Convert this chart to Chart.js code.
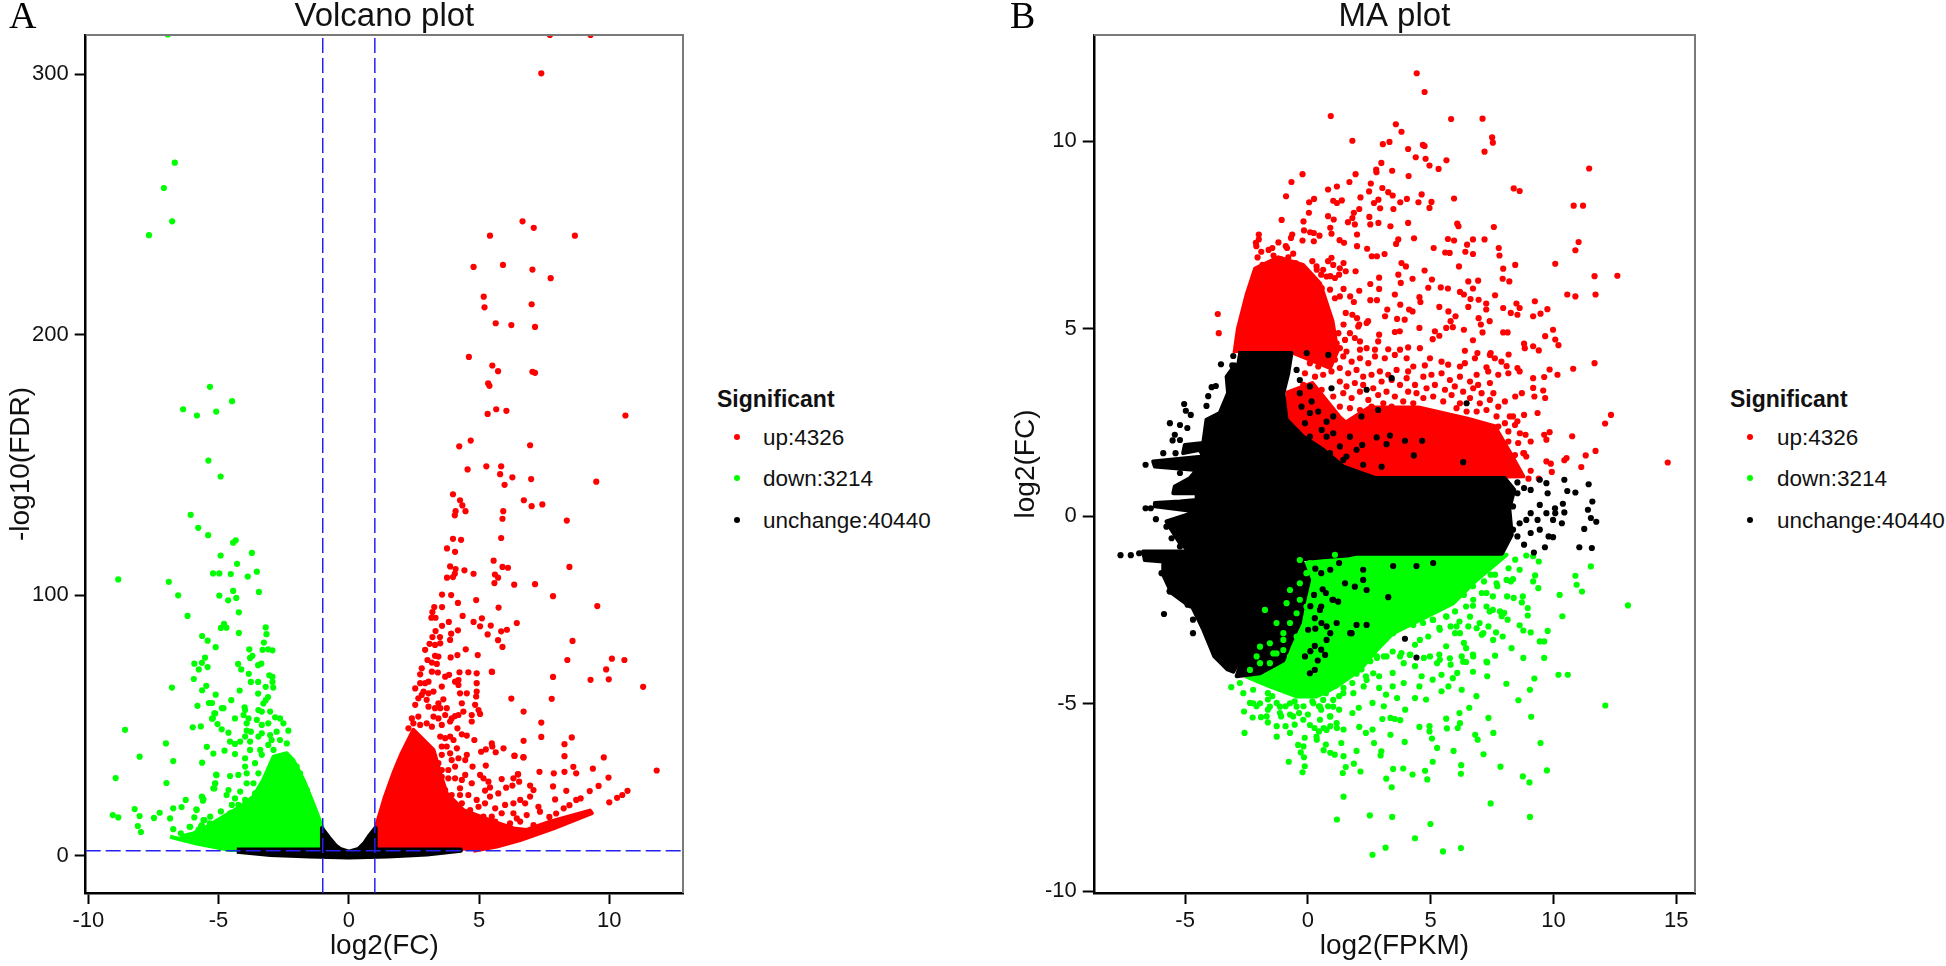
<!DOCTYPE html>
<html>
<head>
<meta charset="utf-8">
<title>Volcano and MA plot</title>
<script src="https://cdn.jsdelivr.net/npm/chart.js@4/dist/chart.umd.min.js"></script>
<style>
html, body { margin: 0; padding: 0; background: #fff; }
body { position: relative; width: 1946px; height: 966px; overflow: hidden; font-family: "Liberation Sans", sans-serif; color: #111; }
canvas { position: absolute; top: 0; }
#volcanoChart { left: 0; }
#maChart { left: 1000px; }
.panel { position: absolute; top: -7px; font: 38px "Liberation Serif", serif; color: #000; }
.leg { position: absolute; font-size: 22.5px; line-height: 26px; white-space: nowrap; }
.leg.head { font-size: 23px; font-weight: bold; }
.dot { position: absolute; width: 6px; height: 6px; border-radius: 50%; }
</style>
</head>
<body>
<canvas id="volcanoChart" width="700" height="966"></canvas>
<canvas id="maChart" width="710" height="966"></canvas>
<span class="panel" style="left:9px">A</span>
<span class="panel" style="left:1010px">B</span>
<div id="legends"></div>
<script>
var legendTitle = "Significant";
var legendLabels = ["up:4326", "down:3214", "unchange:40440"];
var seriesColors = ["#ff0000", "#00ff00", "#000000"];

var volcanoXTicks = [-10, -5, 0, 5, 10];
var volcanoYTicks = [0, 100, 200, 300];
var maXTicks = [-5, 0, 5, 10, 15];
var maYTicks = [-10, -5, 0, 5, 10];
var fcCutoffs = [-1, 1];
var fdrCutoff = 2;

// dense parts of the clouds, outlines, drawn as closed shapes
var volcanoUpCloud = [[1.01,2.3],[1.01,10],[1.39,22.8],[1.71,31.7],[2.03,39.4],[2.48,48.4],[3.25,40.7],[3.51,31.7],[3.76,24],[4.4,17.6],[5.55,13.2],[6.32,10.6],[6.83,10],[7.73,13.2],[9.26,17.4],[9.33,16.4],[7.86,10.6],[6.58,6.1],[5.68,3.6],[4.78,2]];
var volcanoDownCloud = [[-6.86,7.4],[-5.84,4.8],[-4.56,2.3],[-1.04,2.9],[-1,10.6],[-1.42,21.5],[-1.74,29.2],[-2.13,36.8],[-2.38,39.4],[-2.89,38.1],[-3.28,29.2],[-3.66,22.8],[-4.17,18.9],[-4.81,15.1],[-5.45,11.2],[-5.96,8.7],[-6.48,7.4]];
var volcanoSameCloud = [[-4.3,2.5],[-1.05,2.5],[-1.03,10.7],[-0.75,7],[-0.5,4],[-0.33,2.7],[0,1.7],[0.37,2.7],[0.6,5],[0.8,8],[1.01,10.7],[1.03,2.5],[4.3,2.5],[4.3,2],[3,0.6],[1.5,-0.2],[0,-0.6],[-1.5,-0.2],[-3,0.4],[-4.3,1.6]];

var volcanoUp = [[7.72,315],[9.28,315],[7.39,300.3],[6.67,243.5],[7.1,241],[5.42,238],[8.68,238],[4.79,226],[5.92,226.8],[7.05,225],[7.75,221.7],[5.18,214.6],[5.21,210.5],[7.02,211.7],[5.64,204.4],[6.24,203.7],[7.15,203],[4.61,191.5],[5.51,188.2],[5.73,186],[7.05,185.8],[7.15,185.4],[5.35,181.3],[5.4,180.4],[5.66,171.4],[6.05,170.8],[5.33,169.6],[10.62,169],[4.68,159.4],[4.24,157.2],[6.96,157.6],[5.28,149.5],[5.85,149.5],[4.56,148.3],[5.81,146.5],[6.28,145.3],[7,144.6],[9.5,143.6],[5.98,142.4],[4,138.8],[4.27,136.5],[6.72,136.5],
[4.36,134.5],[7.02,134.2],[7.43,134.9],[4.48,132.3],[4.1,132.3],[4.07,130.7],[5.93,132.3],[5.9,129.4],[8.37,128.7],[5.85,122],[4,121.7],[4.31,121.3],[3.77,118],[4.08,116.7],[5.56,113.3],[5.9,110.9],[6.11,110.6],[8.47,110.9],[3.89,111.1],[4.1,110.1],[4.44,109.6],[4.79,108.3],[4.07,108.3],[4,107],[3.77,106.8],[5.61,108],[5.73,106.8],[5.59,104.7],[6.35,104.1],[7.15,104.3],[7.84,99.7],[3.58,100.3],[3.93,100.1],[4.89,98.2],[4.19,97.1],[5.75,95.3],[9.54,95.9],[3.28,95.5],[3.58,95.5],[3.21,93.6],[4.37,92.1],[5.11,91.2],[3.17,91.4],[3.33,91.4],[4.79,89.8],[5.04,88.1],[5.45,88.4],[6.45,89.4],[3.58,88.3],[3.84,89.8],[4.19,86.6],[6.07,86.8],[5.85,86.2],[3.33,86.3],[3.93,85.3],[5.33,85],[3.5,84],[3.21,84],[5.73,82.8],[8.59,82.5],[5.9,80.2],[8.39,75.2],[10.1,75.7],[10.58,75.2],[9.88,71.6],[5.5,70.6],[7.84,68.7],[9.28,67.6],[9.98,67.8],[11.3,64.9],[6.24,60.4],[7.79,60.3],
[6.71,55.4],[7.39,51.2],[7.39,45.7],[6.71,44.2],[8.56,45.5],[8.28,42.9],[8.28,38.3],[9.79,37.8],[6.71,37.8],[6.36,38.4],[8.62,34.2],[9.37,33.5],[11.82,32.8],[7.32,32.3],[7.87,31.7],[8.28,32.3],[8.73,31.7],[6.5,31.4],[9.97,30.1],[7.84,26.7],[9.59,26.9],[9.25,24.9],[10.7,25],[8.35,25],[7.92,21.7],[7.7,15],[7.96,16.3],[8.25,18.3],[8.47,19.5],[8.73,21.5],[8.9,22.1],[10,20.6],[10.3,22.3],[10.5,23.4],
[2.93,79.1],[3.1,81.4],[3.31,81],[3.51,81.6],[3.89,82.9],[3.02,75.2],[3.19,74.2],[3.38,73.7],[3.44,76.5],[3.31,76.8],[3.91,76.2],[4.17,77.1],[4.49,79.3],[4.95,77.1],[2.8,72],[2.74,69.7],[3.19,70.7],[3.42,70.4],[3.7,68.8],[3.85,69.5],[4.25,70.5],[4.59,70.5],[4.91,70.1],[5.49,70.7],[4.08,66.9],[4.21,67.5],[2.55,64.3],[2.74,66.3],[2.93,66.3],[3.06,66.9],[2.87,63.1],[3.06,62.4],[3.25,63.1],[3.57,65],[2.67,60.5],[2.8,61.8],[2.55,58],[2.99,59.9],[3.06,57.3],[3.44,58.6],[3.63,60.1],[3.31,56.7],[3.51,56.7],[3.25,53.5],[3.44,52.8],[3.76,56.7],[3.7,54.1],[3.95,52.8],[4.08,53.7],[2.42,52.8],[2.67,53.5],[2.29,49],[2.48,50.9],[2.74,50.3],[2.99,50.9],[3.19,49.6],[3.57,50.3],[3.89,51.6],[4.21,65.6],[4.27,62.4],[4.53,62.4],[4.34,58.6],[4.4,55.4],[4.21,54.1],[4.91,66.3],[4.91,63.1],[4.89,61.2],[4.85,58],[4.98,56],[5.04,54.5],[4.72,54.1],[4.72,51.6],[4.17,49],[4.34,46.7],[4.53,46.2],[4.82,44.5],
[3.51,45.8],[3.7,45.2],[3.89,45.8],[4.02,44.5],[3.57,42],[3.76,42],[3.89,39.4],[4.15,41.3],[3.57,38.8],[3.95,36.8],[4.21,37.5],[4.53,38.8],[4.47,36.8],[3.44,35.6],[3.19,33.6],[3.57,33],[3.82,33],[4.08,34.3],[4.47,31.1],[4.75,34.3],[5.26,34.7],[5.08,40],[5.26,40.9],[5.49,43.2],[5.51,42],[5.64,39.8],[5.94,41.3],[6.36,38.5],[6.7,37.9],
[2.87,29.2],[3.31,30.4],[3.57,30.4],[3.82,29.8],[4.08,29.8],[4.34,29.2],[5.04,31.1],[5.17,29.8],[5.36,28.5],[4.72,27.9],[5.87,29.5],[6.32,29.8],[6.49,31.3],[6.54,28.5],[6.28,27],[6.04,26.2],[5.23,25.1],[5.42,26.3],[5.74,24],[6.96,27],[7.09,25.3],[6.96,22.8],
[3.51,25.3],[3.7,25.3],[3.95,23.4],[4.27,26],[4.27,23.4],[4.59,23.4],[4.91,21.5],[5.23,20.2],[5.42,22.8],[5.62,18.3],[6,19.6],[6.32,20.2],[6.58,21.5],[6.77,20.2],[7.28,18.9],[7.34,17],
[3.06,26.6],[3.12,22.8],[3.51,20.8],[3.76,19.6],[3.89,16.4],[4.34,20.2],[4.66,17.6],[4.98,18.9],[5.49,15.1],[5.87,16.4],[6.32,16.4],[6.45,14.4],[6.83,15.7],[7.09,11.9],[6.19,12.5],[6.58,13.2],[5.62,13.2],[5.17,15.1],[4.53,15.7]];

var volcanoDown = [[-6.95,315.2],[-6.68,266],[-7.1,256.3],[-6.78,243.5],[-7.67,238.2],[-5.33,180],[-4.48,174.5],[-6.36,171.4],[-5.83,169],[-5.09,170.5],[-5.39,151.7],[-4.92,145.6],
[-6.07,130.9],[-5.78,125.9],[-5.4,123.1],[-4.34,121.1],[-4.44,120.2],[-4.92,115.3],[-3.72,116.3],[-4.29,112.1],[-8.85,106.1],[-5.21,108.4],[-4.97,108.4],[-4.53,108.2],[-3.53,109.1],[-3.88,107.2],[-6.91,105.2],[-4.44,101.7],[-3.45,101.3],[-4.97,99.9],[-6.55,100],[-4.32,99],[-4.63,98.1],[-4.22,93.5],[-6.19,92.1],[-4.79,89.1],[-4.91,87.5],[-4.7,87.6],[-3.19,87.7],[-4.22,85.6],[-3.16,85.1],[-5.63,84.4],[-5.42,82.6],[-5.11,80.1],[-3.26,81.9],[-3.82,79.3],[-3.31,79.1],[-3.1,79.3],[-2.93,78.9],[-3.7,76.8],[-3.79,76],[-5.52,76.1],[-5.93,73.8],[-5.64,74.1],[-5.42,72.5],[-4.25,73.7],[-5.76,71.6],[-3.36,73.8],[-3.48,73.2],[-4.13,71.6],[-3.84,69.9],[-3.05,69.3],[-2.93,68.7],[-5.95,67.9],[-3.76,66.8],[-3.48,66.8],[-2.93,66.8],[-6.79,64.6],[-5.47,65.3],[-5.63,63.6],[-2.9,64.6],[-4.19,63.5],[-3.19,64.9],[-3.48,62.3],[-5.11,61.9],[-3.1,61],[-3.19,59.8],[-4.51,59.8],[-3.28,58.5],[-5.37,58.7],[-5.25,58.7],[-5.81,57.6],[-4.87,56.7],[-4,57],[-5.16,54.7],[-5.25,52.7],[-5.99,49.4],[-5.68,49.7],[-8.59,48.4],[-7.02,43.2],[-5.45,41.9],[-5.2,39.3],[-8.03,38.1],[-6.74,36.4],[-5.63,35.8],[-5.08,31],[-8.95,29.9],[-7,28],[-5.13,27.8],[-5.16,25.9],[-5.63,22.5],[-5.6,21.2],[-6.26,21.5],[-6.42,18.8],[-6.74,18.3],[-8.22,18],[-5.85,17.9],[-9.06,15.7],[-7.26,16.6],[-8.85,14.8],[-8.03,15.3],[-7.48,14.6],[-6.86,14.4],[-5.54,13.8],[-5.93,14.8],[-8.1,11.5],[-6.11,11.2],[-7.98,9.2],[-6.74,10.3],[-6.45,8.7],[-5.68,11.2],[-5.33,12.5],
[-3.98,56],[-4.04,54.1],[-3.85,52.8],[-3.92,50.9],[-4.37,52.8],[-4.81,56.7],[-5.13,54.7],[-5.22,52.8],[-5.04,50.6],[-4.88,48.6],[-4.62,47.3],[-4.56,43.9],[-4.37,43],[-4.17,43.9],[-4.77,40.4],[-4.37,39.1],[-3.79,43.9],[-3.76,47.7],[-3.92,48.1],[-3.98,45.8],[-3.47,56],[-3.34,55.4],[-3.53,52.2],[-3.34,50.3],[-3.34,47.1],[-3.47,45.8],[-3.02,55.4],[-2.83,53.2],[-2.64,52.8],[-2.51,50.9],[-3.09,50.9],[-2.77,47.7],[-2.32,48.1],[-3.02,46.4],[-2.96,44.5],[-2.64,44.5],[-3.09,42.6],[-3.4,40.7],[-3.79,40.7],[-3.98,37.5],[-3.98,34.3],[-3.6,35.6],[-3.34,38.8],[-2.89,40.7],[-2.38,43.2],[-3.47,31.7],[-3.92,31.7],[-4.24,31.1],[-4.56,30.7],[-5.09,31.2],[-5.13,27.9],[-5.2,26],[-4.62,25.3],[-4.17,24.7],[-3.92,27.9],[-3.66,27.9],[-3.28,26.6],[-4.69,23.4],[-4.37,22.1],[-3.98,21.5],[-3.6,24],[-3.34,21.5],[-4.49,19.6],[-4.24,19.6],[-3.92,18.3],[-4.56,16.4],[-4.17,15.1],[-3.79,15.7],[-5.64,22.8],[-5.58,21.7],[-4.91,17.1],[-5.84,17.6],[-5.32,15.1],[-5.58,13.8],[-5.26,11.9],[-5.77,10],[-5.64,11.9],[-5.07,10],[-4.75,13.2],[-4.3,11.9],[-6.09,11.2],[-2,34.3],[-1.87,31.7],[-1.61,25.3],[-1.49,20.2],[-1.29,15],[-3.02,29.2],[-3.21,22.8],[-3.66,16.4]];

var maUpCloud = [[-2.99,4.35],[-2.85,5],[-2.5,5.9],[-2.15,6.6],[-1.2,6.9],[-0.2,6.7],[0.5,6.2],[1,5.2],[1.2,4.4],[0.9,3.95],[-0.6,4.35]];
var maUpLowCloud = [[1,1.3],[1.3,2.4],[2.5,2.9],[4.5,2.9],[6.5,2.6],[7.6,2.4],[8.4,1.5],[8.77,1.06],[3,1]];
var maUpMixCloud = [[-0.91,3.28],[0.18,3.55],[1.27,2.66],[2,2.22],[3.09,1.81],[3.3,1.01],[0.18,1.15],[-0.91,1.59]];
var maDownCloud = [[1.85,-0.99],[8.09,-1.03],[6.87,-1.7],[5.92,-2.32],[4.56,-2.77],[3.47,-3.12],[2.8,-3.57],[2.12,-4.1],[1.17,-4.54],[0.35,-4.81],[-0.46,-4.81],[-1.55,-4.54],[-2.5,-4.28],[-2.2,-4],[-1.6,-2.6],[-0.7,-1.5],[0.5,-1.05]];
var maSameMixCloud = [[-0.3,-1.1],[0.05,-1.7],[-0.2,-2.4],[-0.33,-2.85],[-0.73,-3.4],[-1,-3.85],[-1.95,-4.19],[-2.9,-4.27],[-2,-2.5],[-0.46,-1.17]];
var maSameCloud = [[-2.84,4.35],[-0.67,4.35],[-0.8,3.81],[-1,3.28],[-0.87,2.57],[-0.19,2.12],[0.62,1.77],[1.44,1.32],[2.73,1.02],[8,1.02],[8.4,0.7],[8.2,0.2],[8.3,-0.5],[7.9,-1],[2,-1],[1.6,-1.05],[0.6,-1.1],[-0.46,-1.17],[-0.87,-1.7],[-1.41,-2.41],[-1.95,-3.03],[-2.63,-3.65],[-3.04,-4.15],[-3.27,-4.09],[-3.81,-3.74],[-4.26,-3.03],[-4.72,-2.41],[-4.8,-2.41],[-5.55,-2.05],[-5.89,-1.57],[-5.89,-1.21],[-6.64,-1.17],[-6.71,-0.94],[-4.8,-0.94],[-5.21,-0.72],[-5.55,-0.37],[-5.76,-0.14],[-4.53,0.12],[-6.23,0.26],[-6.23,0.35],[-5.21,0.39],[-4.53,0.43],[-4.53,0.61],[-5.48,0.61],[-5.42,0.79],[-4.81,1.01],[-4.53,1.23],[-6.23,1.32],[-6.3,1.46],[-4.26,1.59],[-4.4,1.77],[-5.08,1.68],[-5.01,1.9],[-4.26,1.95],[-4.13,2.57],[-3.59,2.75],[-3.25,3.28],[-3.31,3.72],[-2.91,4.08]];

var maUp = [[4.43,11.81],[4.75,11.31],[0.93,10.67],[5.83,10.59],[7.11,10.6],[3.58,10.45],[3.81,10.25],[7.5,10.1],[7.53,9.96],[1.81,10.01],[3.05,9.92],[3.32,9.98],[4.68,9.9],[4.75,9.87],[7.19,9.72],[4.08,9.79],[4.39,9.57],[4.79,9.53],[5.64,9.49],[4.95,9.35],[2.99,9.42],[2.78,9.24],[2.79,9.17],[5.32,9.26],[3.43,9.21],[11.45,9.27],[-0.22,9.12],[1.94,9.12],[4.1,9.07],[-0.67,8.91],[1.69,8.91],[1.18,8.79],[0.82,8.71],[2.56,8.87],[3.03,8.75],[8.38,8.74],[8.62,8.67],[-0.89,8.53],[2.49,8.66],[3.27,8.64],[3.45,8.55],[4.63,8.58],[5.95,8.47],[4.03,8.46],[0.25,8.46],[2.14,8.5],[0.05,8.37],[1.03,8.41],[1.18,8.35],[1.38,8.42],[2.87,8.44],[2.69,8.35],[3.76,8.37],[4.5,8.37],[5.03,8.38],[10.82,8.28],[11.2,8.28],[2.09,8.19],[2.94,8.21],[3.48,8.19],[4.95,8.22],[0.04,8.09],[1.87,8.09],[0.82,8],[1.81,7.95],[2.5,7.98],[-1.07,7.9],[1.05,7.91],[-0.18,7.86],[1.63,7.84],[1.91,7.78],[2.54,7.78],[2.87,7.82],[4.08,7.82],[3.36,7.73],[6.08,7.8],[6.13,7.73],[7.57,7.71],[0.91,7.69],[2,7.51],[-0.16,7.62],[0.09,7.57],[0.24,7.55],[0.47,7.48],[-0.64,7.51],[-0.69,7.42],[0.96,7.53],[-2,7.51],[-2,7.38],[-0.22,7.35],[0.24,7.33],[1.29,7.36],[3.68,7.38],[3.59,7.26],[4.32,7.41],[5.7,7.39],[5.95,7.35],[6.72,7.38],[7.19,7.38],[6.48,7.24],[11.02,7.31],[-2.12,7.29],[1.47,7.29],[2,7.2],[-0.85,7.15],[-1.45,7.15],[5.12,7.15],[7.77,7.15],[2.41,7.13],[10.89,7.09],[6.41,7.05],[5.59,7.03],[5.77,7.02],[6.72,6.99],[7.8,6.95],[2.81,6.93],[3.12,6.99],[2.6,6.93],[0.18,6.8],[0.82,6.8],[1.45,6.75],[0.96,6.89],[-0.73,6.75],[-0.27,6.66],[-1.45,6.75],[10.07,6.73],[8.44,6.7],[3.81,6.75],[3.99,6.66],[6.15,6.66],[7.95,6.6],[1.94,6.53],[4.75,6.55],[3.68,6.44],[1.54,6.53],[0.36,6.57],[0.54,6.44],[1.27,6.44],[0.91,6.4],[11.67,6.4],[12.6,6.41],[4.26,6.33],[2.9,6.36],[5.05,6.31],[7.93,6.33],[8.2,6.26],[6.93,6.28],[6.53,6.26],[3.78,6.22],[2.54,6.19],[4.9,6.09],[5.41,6.1],[5.7,6.07],[6.19,5.98],[6.72,6.07],[2.9,6.06],[2.09,6.01],[1.45,6.06],[6.35,5.91],[3.54,5.91],[7.62,5.89],[10.56,5.91],[10.89,5.86],[11.71,5.91],[1.72,5.86],[4.54,5.84],[2.54,5.76],[2.81,5.76],[6.62,5.79],[6.95,5.77],[4.58,5.71],[9.24,5.73],[1.87,5.71],[7.26,5.67],[3.76,5.64],[-2.45,5.67],[8.49,5.67],[6.53,5.58],[5.35,5.58],[7.95,5.55],[7.26,5.51],[8.62,5.55],[9.75,5.52],[3.23,5.51],[4.12,5.51],[1.54,5.42],[5.72,5.46],[8.53,5.37],[9.47,5.4],[8.26,5.42],[-3.67,5.39],[-3.63,4.88],[9.17,5.33],[3.14,5.33],[4.26,5.46],[6.01,5.33],[1.81,5.37],[2,5.28],[3.63,5.26],[3.94,5.24],[6.95,5.28],[5.81,5.2],[7.4,5.2],[2.45,5.2],[1.45,5.11],[2.09,5.11],[7.04,5.11],[5.63,5.02],[5.9,5.04],[6.35,4.97],[4.54,5.02],[9.98,4.97],[2.9,4.84],[3.54,4.91],[3.74,4.93],[5.17,4.93],[7.95,4.9],[8.13,4.9],[7.11,4.9],[9.66,4.8],[5.35,4.81],[5.08,4.72],[6.72,4.69],[10.07,4.71],[8.8,4.6],[10.2,4.56],[9.17,4.53],[8.83,4.48],[9.4,4.42],[6.39,4.41],[7.44,4.35],[6.9,4.35],[8.17,4.31],[11.67,4.08],[10.8,3.93],[8.53,3.95],[9.84,3.91],[10.16,3.77],[9.62,3.71],[9.17,3.68],[8.62,3.86],[9.17,3.42],[9.58,3.35],[8.71,3.28],[8.44,3.19],[9.66,3.15],[9.22,3.19],[9.35,2.75],[12.34,2.7],[12.1,2.47],[8.8,2.7],[8.35,2.66],[8.53,2.53],[10.76,2.13],[9.84,2.24],[9.62,2.17],[9.71,2.04],[8.86,2.17],[9.07,1.99],[11.71,1.74],[11.31,1.62],[10.53,1.55],[10.44,1.49],[8.8,1.68],[8.89,1.59],[14.65,1.43],[9.71,1.46],[9.89,1.4],[11.13,1.31],[9.93,1.18],[9.07,1.21],[9.4,1],[8.98,1],
[-2.1,7.2],[-1.9,7.05],[-2.05,6.9],[-1.85,6.7],[-1.6,7.1],[-1.4,6.95],[-1.1,6.85],[-0.8,6.9],[-0.5,6.75],[-0.6,7],[-1.2,7.3],[-0.9,7.2],
[0.35,6.66],[0.62,6.57],[1.03,6.7],[1.3,6.61],[0.76,6.39],[1.1,6.35],[0.56,6.08],[0.9,6.04],[1.3,5.86],[1.1,5.81],[1.24,4.88],[1.17,4.61],[1.51,4.7],[1.3,4.48],[1.57,4.39],[1.91,4.75],[2.12,4.66],[1.71,4.88],[2.05,5.06],[2.39,5.15],[2.86,4.66],[2.73,4.44],[3.27,4.45],[3.75,4.44],[4.08,4.5],[4.56,4.48],[2.12,4.44],[2.39,4.48],
[0.08,4.08],[0.42,3.99],[1.1,4.17],[1.44,4.26],[1.78,4.12],[2.12,4.21],[2.46,4.08],[2.73,4.26],[3.13,4.21],[3.54,4.3],[4.02,4.21],[4.29,3.99],[4.08,3.86],[4.76,4.02],[4.97,4.21],[5.44,4.12],[5.71,4.04],[6.19,3.99],[6.39,4.08],[6.8,4.21],[7.41,4.3],[7.61,4.21],[7.88,4.12],[8.09,4],[7.27,3.97],[6.87,3.77],[7.34,3.86],[-0.12,3.81],[0.29,3.72],[0.62,3.77],[0.96,3.86],[1.3,3.95],[1.64,3.81],[1.98,3.9],[2.25,3.72],[2.59,3.77],[2.93,3.86],[3.27,3.77],[3.61,3.9],[4.02,3.68],[4.36,3.5],[4.7,3.72],[5.03,3.77],[5.44,3.81],[5.78,3.63],[6.19,3.72],[6.6,3.59],[6.93,3.5],[7.41,3.55],[7.75,3.77],[8.16,3.81],[-0.19,3.5],[0.22,3.41],[0.56,3.37],[1.3,3.59],[1.57,3.46],[1.91,3.55],[2.25,3.5],[2.66,3.41],[3,3.59],[3.41,3.63],[3.75,3.5],[4.08,3.32],[4.42,3.28],[4.83,3.41],[5.17,3.5],[5.58,3.37],[5.98,3.46],[6.32,3.32],[6.73,3.41],[7.07,3.28],[7.55,3.28],[8.02,3.06],
[0.62,3.1],[1.03,3.19],[1.44,3.28],[1.78,3.15],[2.12,3.32],[2.46,3.1],[2.86,3.23],[3.2,3.32],[3.54,3.19],[3.88,3.06],[4.29,3.01],[4.7,3.15],[5.1,3.19],[5.51,3.06],[5.85,3.23],[6.19,3.01],[6.6,3.15],[7,3.01],[7.41,3.1],[7.75,2.92],[8.22,2.66],
[0.35,2.92],[1.3,2.92],[1.71,2.88],[2.12,2.83],[2.59,2.92],[3.07,3.01],[3.41,2.92],[6.05,2.88],[6.46,2.79],[6.87,2.79],[7.27,2.83],[7.68,2.66],[8.02,2.48],[8.43,2.43],[7.75,2.39],[8.16,2.26],[8.63,2.21],[8.16,1.99],[8.56,1.95],[8.43,1.63],[8.77,1.68],[0.62,2.66],[1.24,2.57],[0.22,2.43]];

var maDown = [[2.63,-9.03],[3.16,-8.84],[5.5,-8.94],[6.23,-8.85],[4.36,-8.59],[4.99,-8.21],[1.18,-8.09],[2.52,-7.98],[3.43,-8.02],[9.04,-8.02],[1.45,-7.48],[7.44,-7.66],[3.41,-7.23],[3.19,-7],[4.86,-7.02],[9.02,-7.1],[8.75,-6.94],[9.73,-6.78],[6.23,-6.87],[7.84,-6.68],[6.24,-6.64],[4.26,-6.89],[3.47,-6.74],[3.88,-6.73],[4.77,-6.79],[5.08,-6.55],[1.42,-6.85],[2.14,-6.81],[1.87,-6.6],[1.54,-6.69],[-0.22,-6.83],[-0.13,-6.67],[-0.78,-6.55],[-0.16,-6.43],[-0.29,-6.3],[-0.4,-6.1],[-0.18,-6.14],[-0.13,-5.91],[0.64,-6.24],[0.91,-6.31],[1.09,-6.36],[1.45,-6.4],[2.96,-6.38],[2.99,-6.27],[1.98,-6.26],[7.15,-6.35],[5.93,-6.26],[5.26,-6.18],[9.47,-6.05],[2.69,-6.05],[3.94,-6.02],[1.36,-6.05],[0.73,-6.09],[0.36,-5.96],[-1.27,-5.88],[-0.73,-5.78],[-2.58,-5.78],[5.05,-5.93],[6.91,-5.96],[6.81,-5.83],[7.55,-5.78],[3.36,-5.83],[2.36,-5.78],[2.63,-5.69],[2.09,-5.62],[4.54,-5.62],[4.95,-5.6],[5.66,-5.66],[6.1,-5.65],[4.95,-5.74],[6.19,-5.52],[1.45,-5.69],[1.18,-5.65],[0.91,-5.6],[0.64,-5.65],[0.27,-5.65],[0.45,-5.74],[-1.27,-5.6],[-0.91,-5.6],[-0.54,-5.56],[-1.63,-5.5],[9.09,-5.35],[7.35,-5.38],[5.63,-5.4],[3.03,-5.41],[3.36,-5.38],[3.54,-5.41],[3.76,-5.44],[-2.25,-5.37],[-1.91,-5.36],[-2.6,-5.21],[12.11,-5.05],[6.57,-5.11],[6.17,-5.25],[3.96,-5.16],[2.07,-5.11],[1.81,-5.25],[1.27,-5.16],[0.91,-5.34],[-0.73,-5.29],[-0.36,-5.25],[0,-5.29],[-1.09,-5.34],[8.57,-4.91],[6.86,-4.8],[6.26,-4.63],[9.04,-4.63],[8.08,-4.47],[9.22,-4.33],[10.2,-4.23],[10.58,-4.23],[7.3,-4.27],[6.72,-4.15],[6.08,-4.18],[9.62,-3.78],[8.77,-3.78],[8.29,-3.52],[7.62,-3.72],[7.3,-3.9],[6.72,-3.69],[9.44,-3.34],[9.62,-3.34],[9.76,-3.06],[9.07,-3.1],[8.77,-3.05],[7.93,-3.21],[7.66,-3.1],[7.08,-3.16],[8.62,-2.91],[10.36,-2.67],[13.03,-2.38],[10.25,-2.1],[8.11,-2.14],[8.38,-2.18],[8.75,-2.14],[8.71,-2.3],[8.95,-2.45],[8.95,-2.65],[7.99,-2.58],[7.89,-2.67],[8.13,-2.76],[7.53,-2.5],[7.4,-2.54],[7.53,-2.14],[7.71,-1.87],[11.16,-2.01],[10.94,-1.83],[10.89,-1.59],[11.52,-1.34],[9.38,-1.92],[9.25,-1.58],[9.17,-1.74],[8.44,-1.16],[8.62,-1.43],[8.35,-1.68],[8.26,-1.74],[8.89,-1.05],[9.17,-1.07],[9.4,-1.21],[8.17,-1.39],[7.62,-1.56],[7.44,-1.56],[7.17,-1.74],[7.08,-2.05],[6.72,-1.87],[6.35,-2.1],
[6.44,-2.41],[6.72,-2.39],[5.99,-2.54],[5.26,-2.5],[5.63,-2.67],[5.08,-2.76],[6.17,-2.81],[6.99,-2.85],[7.35,-2.94],[6.53,-2.94],[5.81,-2.94],[5.35,-2.98],[5.99,-3.12],[4.9,-3.21],[4.36,-3.43],[5.63,-3.47],[6.35,-3.38],[6.44,-3.52],[5.35,-3.69],[6.26,-3.74],[6.44,-3.89],[5.81,-3.96],[5.26,-3.92],[4.72,-3.78],[4.17,-3.69],[3.81,-3.65],[3.45,-3.61],[3.09,-3.74],[2.81,-3.78],[2.54,-3.87],[2.18,-4.09],[1.81,-3.96],[1.54,-4.09],[2.36,-4.27],[2.9,-4.27],[3.45,-4.18],[3.9,-3.92],[4.36,-4],[4.63,-4.27],[5.08,-4.36],[5.44,-4.23],[5.9,-4.32],[5.72,-4.54],[5.44,-4.67],[4.81,-4.89],[4.36,-4.85],[3.63,-4.85],[3.18,-4.76],[2.9,-4.58],[2.27,-4.54],[1.81,-4.45],[1.45,-4.58],[1.27,-4.8],[0.73,-4.72],[0.45,-5.07],[4.54,-4.54],[3.9,-4.45],[3.45,-4.54],[3.09,-5.07],[2.63,-4.98],
[2.9,-3.38],[2.36,-3.56],[-1.63,-4.89],[-1.45,-4.8],[-2.36,-4.98],[-2.09,-5.07],[-1.63,-5.16],[-1.27,-4.98],[-0.91,-5.07],[-0.54,-4.94],[-0.18,-5.07],[0.18,-4.94],[0.54,-5.16],[0.82,-5.07],[-2.63,-4.72],[-1.63,-4.72],[-3.12,-4.56],
[-0.33,-1.17],[0.08,-1.25],[-0.06,-1.52],[-0.33,-1.79],[-0.73,-1.97],[-0.33,-2.23],[-0.06,-2.41],[-0.87,-2.32],[-0.46,-2.59],[-0.06,-2.77],[-0.73,-2.85],[-1.28,-2.85],[-1,-3.12],[-1.55,-3.39],[-1.28,-3.66],[-1.95,-3.48],[-2.09,-3.74],[-2.36,-4.1],[-1.95,-3.92],[-1.55,-3.92],[-1,-3.3],[-0.46,-3.21],[-1,-3.57],[-0.73,-3.74],[-0.33,-3.57],[-0.46,-3.92],[-1,-4.01],[-1.41,-3.66],[-1.75,-2.5],[1.1,-1.03],
[5.1,-2.77],[5.64,-2.68],[6.05,-2.94],[6.6,-2.68],[7.27,-2.41],[7.82,-2.54],[7.14,-3.12],[6.19,-3.12],[5.37,-3.03],[4.56,-3.3],[3.47,-3.12],[2.93,-3.3],[2.52,-3.48],[2.25,-3.92],[2.8,-3.74],[3.2,-3.74],[3.75,-3.74],[4.15,-3.7],[4.97,-3.74],[5.37,-3.83],[5.78,-3.79],[6.32,-3.88],[6.73,-3.74],[7.27,-3.88],[7.54,-3.3],[6.87,-2.99],[3.75,-2.85],[4.29,-2.9],[4.69,-2.85],[6.73,-2.23],[7.27,-2.05],[7.68,-1.79],[8.09,-1.7],[0.22,-4.99],[0.62,-4.9],[1.03,-4.9],[1.44,-4.72],[1.85,-4.72],[2.39,-4.37],[2.66,-4.19],[0.9,-4.54],[0.49,-5.08],[0.9,-5.34],[0.49,-5.43],[1.17,-5.52],[0.76,-5.7],[0.35,-5.88],[1.03,-5.08],[-0.46,-5.08],[-0.73,-4.99],[-1.14,-5.08],[-1.55,-5.08],[-1.95,-4.99],[-2.23,-4.99],[-1.68,-5.34],[-1.14,-5.25],[-0.6,-5.34],[-0.19,-5.43],[0.08,-5.57],[-2.77,-4.45],[-2.23,-4.63],[1.57,-4.3],[1.98,-4.2]];

var maSame = [[10.44,0.97],[11.43,0.85],[10.56,0.67],[10.89,0.63],[9.71,0.88],[9.44,0.97],[8.8,0.75],[8.53,0.9],[9.07,0.7],[11.58,0.39],[10.38,0.33],[11.4,0.17],[10.06,0.21],[10.44,0.1],[10.07,0.08],[11.52,-0.05],[11.74,-0.15],[10.34,-0.19],[9.98,-0.1],[11.25,-0.34],[9.76,0.61],[9.44,0.3],[9.07,0.08],[9.71,0.08],[9.35,-0.1],[8.89,-0.1],[9.44,-0.36],[9.8,-0.54],[9.98,-0.56],[9.07,-0.45],[8.53,-0.54],[8.8,-0.76],[9.65,-0.83],[9.2,-0.97],[11.05,-0.83],[11.56,-0.85],[8.53,0.61],[8.35,0.26],[8.17,0.52],[8.62,-0.19],[8.35,-0.36],[7.99,-0.54],
[-6.61,1.37],[-5.89,1.68],[-5.39,1.68],[-5.62,2.48],[-5.21,2.43],[-4.91,2.35],[-5.42,2.17],[-5.51,2.02],[-5.21,2.03],[-5.04,2.99],[-4.97,2.81],[-4.77,2.7],[-4.13,2.94],[-4.06,3.2],[-3.92,3.44],[-3.75,3.47],[-3.54,4.05],[-3.04,4.27],[-3.08,4.02],[-6.61,0.21],[-6.4,0.21],[-6.19,-0.08],[-7.63,-1.04],[-7.21,-1.04],[-6.87,-0.99],[-5.21,1.15],[-5.21,-0.81],[-5.76,-0.28],[-5.55,-0.59],[-5.96,-1.52],[-5.62,-2.01],[-5.24,-2.01],[-5.15,-2.19],[-5.86,-2.61],[-4.68,-3.12],[-4.68,-2.76],[-5.63,-2],[-5.08,-2.18],[-4.9,-2.36],
[1.03,-2.23],[1.23,-2.28],[1.51,-1.79],[1.91,-1.88],[2.25,-1.7],[2.39,-1.97],[3.27,-2.16],[1.78,-3.12],[3.95,-3.27],[4.42,-3.77],[2.39,-2.9],[1.98,-2.9],[0.76,-2.94],[0.28,-2.72],[0.01,-3.03],[0.28,-3.46],[-0.12,-3.74],[0.28,-4.1],[0.08,-4.19],[3.47,-1.33],[4.42,-1.33],[5.1,-1.25],[2.25,-1.43],[0.76,-3.3],[1.17,-2.85],[0.49,-2.5],[1.72,-3.12],[1,-2.23],[0.54,-1.52],[1.27,-1.25],[0.91,-1.43],[0.73,-2.05],[0.54,-2.41],[0.91,-3.12],[0.54,-3.56],[0.3,-1.4],[0.6,-1.95],[0.25,-2.1],[0.1,-2.4],[0.3,-3],[0.55,-2.85],[0.1,-3.6],[0.4,-3.85],[0.7,-3.7],
[-0.46,3.9],[-0.33,3.28],[0.08,3.46],[0.15,3.06],[0.42,2.79],[0.08,2.75],[0.76,2.52],[1.03,2.66],[0.96,3.41],[2.39,3.37],[2.86,2.83],[2.18,2.66],[2.8,2.1],[3.34,2.15],[3.95,2.01],[4.65,2.01],[2.21,1.9],[1.71,2.12],[1.03,2.21],[0.56,2.3],[0.08,2.12],[1.3,1.86],[1.98,1.77],[1.57,1.59],[0.9,1.68],[-0.05,4.35],[0.83,4.3],[3.41,3.68],[6.46,3.01],[6.32,1.44],[4.31,1.62],[3.2,1.92],[3,1.32],[2.25,1.37],[1.44,1.5],[-0.33,3.63],[-0.26,2.92],[-0.12,2.48],[0.76,2.12]];

function toXY(pairs) {
    return pairs.map(function (p) { return { x: p[0], y: p[1] }; });
}

function cloudSet(pairs, color, order) {
    return { data: toXY(pairs), showLine: true, fill: "shape", backgroundColor: color, borderColor: color, borderWidth: 4, borderJoinStyle: "round", pointRadius: 0, tension: 0, order: order };
}

function dotSet(pairs, color, order) {
    return { data: toXY(pairs), showLine: false, backgroundColor: color, pointRadius: 3.1, pointBorderWidth: 0, order: order };
}

function cutSet(points) {
    return { data: points, showLine: true, borderColor: "#2222ee", borderWidth: 1.5, borderDash: [15, 5], pointRadius: 0, fill: false, tension: 0, order: 0 };
}

// the grey top and right sides of the box
var boxPlugin = {
    id: "box",
    afterDatasetsDraw: function (chart) {
        var a = chart.chartArea, ctx = chart.ctx;
        ctx.save();
        ctx.strokeStyle = "#7a7a7a";
        ctx.lineWidth = 2;
        ctx.beginPath();
        ctx.moveTo(a.left, a.top);
        ctx.lineTo(a.right, a.top);
        ctx.lineTo(a.right, a.bottom);
        ctx.stroke();
        ctx.restore();
    }
};

function axis(title, ticks, min, max, fit, titlePadding, tickPadding) {
    return {
        type: "linear",
        min: min,
        max: max,
        title: { display: true, text: title, color: "#111", font: { family: "Liberation Sans", size: 28 }, padding: titlePadding },
        border: { color: "#000", width: 2.5 },
        grid: { drawOnChartArea: false, tickLength: 11, tickWidth: 2, tickColor: "#000" },
        ticks: {
            color: "#111",
            font: { family: "Liberation Sans", size: 22 },
            padding: tickPadding,
            autoSkip: false,
            maxRotation: 0,
            callback: function (v) { return String(v); }
        },
        afterBuildTicks: function (s) {
            s.ticks = ticks.map(function (v) { return { value: v }; });
        },
        afterFit: fit
    };
}

function makePanel(id, title, datasets, xAxis, yAxis, rightPad) {
    return new Chart(document.getElementById(id), {
        type: "scatter",
        data: { datasets: datasets },
        plugins: [boxPlugin],
        options: {
            responsive: false,
            animation: false,
            events: [],
            layout: { padding: { left: 0, top: 0, right: rightPad, bottom: 0 } },
            scales: { x: xAxis, y: yAxis },
            plugins: {
                legend: { display: false },
                tooltip: { enabled: false },
                title: { display: true, text: title, fullSize: false, color: "#111", font: { family: "Liberation Sans", size: 33, weight: "normal", lineHeight: 1 }, padding: { top: 0, bottom: 2 } }
            }
        }
    });
}

var vXMin = -10.1, vXMax = 12.83, vYMin = -14.2, vYMax = 315;
var mXMin = -8.72, mXMax = 15.76, mYMin = -10.05, mYMax = 12.83;

makePanel("volcanoChart", "Volcano plot", [
    cutSet([{ x: fcCutoffs[0], y: vYMin }, { x: fcCutoffs[0], y: vYMax }]),
    cutSet([{ x: fcCutoffs[1], y: vYMin }, { x: fcCutoffs[1], y: vYMax }]),
    cutSet([{ x: vXMin, y: fdrCutoff }, { x: vXMax, y: fdrCutoff }]),
    dotSet(volcanoUp, seriesColors[0], 1),
    dotSet(volcanoDown, seriesColors[1], 2),
    cloudSet(volcanoSameCloud, seriesColors[2], 3),
    cloudSet(volcanoUpCloud, seriesColors[0], 4),
    cloudSet(volcanoDownCloud, seriesColors[1], 5)
],
    axis("log2(FC)", volcanoXTicks, vXMin, vXMax, function (s) { s.height = 73; }, { top: 0, bottom: 3 }, 4),
    axis("-log10(FDR)", volcanoYTicks, vYMin, vYMax, function (s) { s.width = 85.7; }, { top: 4, bottom: 0 }, 6),
    17);

makePanel("maChart", "MA plot", [
    dotSet(maSame, seriesColors[2], 1),
    dotSet(maDown, seriesColors[1], 2),
    dotSet(maUp, seriesColors[0], 3),
    cloudSet(maSameCloud, seriesColors[2], 4),
    cloudSet(maSameMixCloud, seriesColors[2], 5),
    cloudSet(maUpCloud, seriesColors[0], 6),
    cloudSet(maUpLowCloud, seriesColors[0], 7),
    cloudSet(maUpMixCloud, seriesColors[0], 8),
    cloudSet(maDownCloud, seriesColors[1], 9)
],
    axis("log2(FPKM)", maXTicks, mXMin, mXMax, function (s) { s.height = 73; }, { top: 0, bottom: 3 }, 4),
    axis("log2(FC)", maYTicks, mYMin, mYMax, function (s) { s.width = 93.75; }, { top: 9, bottom: 0 }, 6),
    15);

// legends beside each panel
function addLegend(headX, dotX, labelX) {
    var box = document.getElementById("legends");
    var head = document.createElement("div");
    head.className = "leg head";
    head.style.left = headX + "px";
    head.style.top = "386px";
    head.textContent = legendTitle;
    box.appendChild(head);
    var rows = [437, 478, 520];
    legendLabels.forEach(function (label, i) {
        var dot = document.createElement("span");
        dot.className = "dot";
        dot.style.left = (dotX - 3) + "px";
        dot.style.top = (rows[i] - 3) + "px";
        dot.style.background = seriesColors[i];
        box.appendChild(dot);
        var text = document.createElement("div");
        text.className = "leg";
        text.style.left = labelX + "px";
        text.style.top = (rows[i] - 12) + "px";
        text.textContent = label;
        box.appendChild(text);
    });
}
addLegend(717, 737, 763);
addLegend(1730, 1750, 1777);
</script>
</body>
</html>
